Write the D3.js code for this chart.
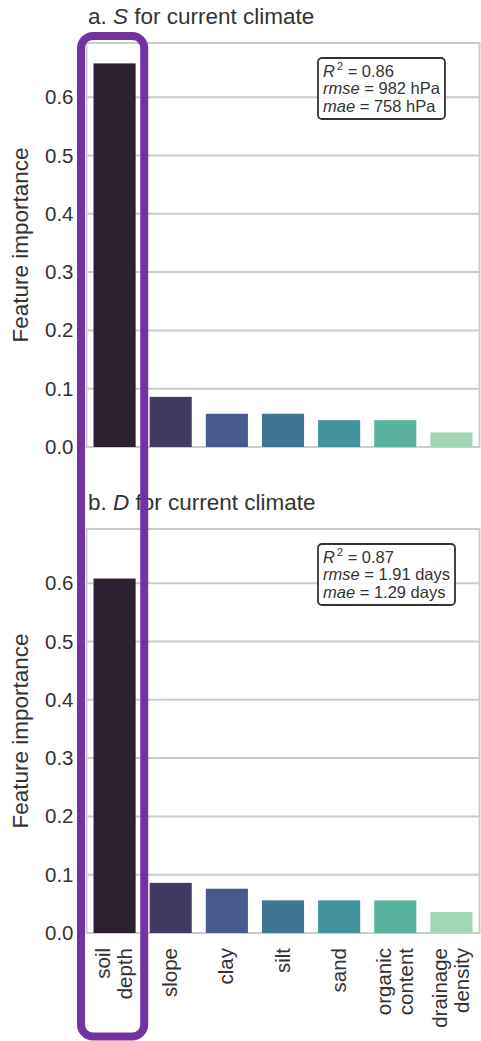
<!DOCTYPE html>
<html>
<head>
<meta charset="utf-8">
<script src="https://cdn.jsdelivr.net/npm/d3@7"></script>
<style>
  html, body { margin: 0; padding: 0; background: #ffffff; }
  svg { display: block; font-family: "Liberation Sans", Arial, sans-serif; }
</style>
</head>
<body>
<svg id="chart" width="481" height="1041"></svg>
<script>
// ---- data ----
const categories = ["soil depth", "slope", "clay", "silt", "sand", "organic content", "drainage density"];
const importanceS = [0.658, 0.086, 0.057, 0.057, 0.046, 0.046, 0.025];
const importanceD = [0.608, 0.086, 0.076, 0.056, 0.056, 0.056, 0.036];
const barColors = ["#2c1f30", "#433a63", "#475b8c", "#427591", "#44929b", "#59b39f", "#a2d5b5"];
const yTicks = [0, 0.1, 0.2, 0.3, 0.4, 0.5, 0.6];
const panelLetters = ["a.", "b."];
const panelVars = ["S", "D"];
const titleRest = " for current climate";
const statsR2 = ["0.86", "0.87"];
const statsRmse = ["982 hPa", "1.91 days"];
const statsMae = ["758 hPa", "1.29 days"];
const yLabel = "Feature importance";
const yMax = 0.693;

// ---- layout ----
const svg = d3.select("#chart");
const left = 86.5, right = 479.5;
const panels = [
  { top: 43, bottom: 447, values: importanceS },
  { top: 529, bottom: 933, values: importanceD }
];
const textColor = "#333333";
const gridColor = "#cccccc";

const x = d3.scaleBand().domain(categories).range([left, right])
  .paddingInner(0.25).paddingOuter(0.125);

panels.forEach((p, i) => {
  const y = d3.scaleLinear().domain([0, yMax]).range([p.bottom, p.top]);
  const g = svg.append("g");

  // gridlines
  g.selectAll("line.grid").data(yTicks).join("line")
    .attr("x1", left).attr("x2", right)
    .attr("y1", d => y(d)).attr("y2", d => y(d))
    .attr("stroke", gridColor).attr("stroke-width", 2);

  // frame
  g.append("rect")
    .attr("x", left).attr("y", p.top)
    .attr("width", right - left).attr("height", p.bottom - p.top)
    .attr("fill", "none").attr("stroke", gridColor).attr("stroke-width", 2);

  // y axis (labels only)
  const yAxis = d3.axisLeft(y).tickValues(yTicks).tickFormat(d3.format(".1f")).tickSize(0).tickPadding(13);
  const ax = g.append("g").attr("transform", `translate(${left},0)`).call(yAxis);
  ax.select(".domain").remove();
  ax.selectAll("text").attr("font-size", 20.5).attr("fill", textColor)
    .attr("font-family", "Liberation Sans, Arial, sans-serif");

  // bars
  g.selectAll("rect.bar").data(categories).join("rect")
    .attr("class", "bar")
    .attr("x", d => x(d))
    .attr("width", x.bandwidth())
    .attr("y", (d, j) => y(p.values[j]))
    .attr("height", (d, j) => y(0) - y(p.values[j]))
    .attr("fill", (d, j) => barColors[j]);

  // title
  const t = g.append("text")
    .attr("x", left + 1.5).attr("y", p.top - 19.5)
    .attr("font-size", 22.5).attr("fill", textColor);
  t.append("tspan").text(panelLetters[i] + " ");
  t.append("tspan").attr("font-style", "italic").text(panelVars[i]);
  t.append("tspan").text(titleRest);

  // y label
  g.append("text")
    .attr("transform", `translate(28,${(p.top + p.bottom) / 2}) rotate(-90)`)
    .attr("text-anchor", "middle")
    .attr("font-size", 22.5).attr("fill", textColor)
    .text(yLabel);

  // stats box
  const boxX = 318, boxY = p.top + 15;
  const tx = boxX + 5;
  const lh = 17.5;
  const sg = g.append("g");
  const l1 = sg.append("text").attr("x", tx).attr("y", boxY + 18.5)
    .attr("font-size", 16.5).attr("fill", textColor);
  l1.append("tspan").attr("font-style", "italic").text("R");
  l1.append("tspan").attr("dx", 2).attr("dy", -7).attr("font-size", 11).text("2");
  l1.append("tspan").attr("dy", 7).text(" = " + statsR2[i]);
  const l2 = sg.append("text").attr("x", tx).attr("y", boxY + 18.5 + lh)
    .attr("font-size", 16.5).attr("fill", textColor);
  l2.append("tspan").attr("font-style", "italic").text("rmse");
  l2.append("tspan").text(" = " + statsRmse[i]);
  const l3 = sg.append("text").attr("x", tx).attr("y", boxY + 18.5 + 2 * lh)
    .attr("font-size", 16.5).attr("fill", textColor);
  l3.append("tspan").attr("font-style", "italic").text("mae");
  l3.append("tspan").text(" = " + statsMae[i]);
  const maxW = Math.max(l1.node().getComputedTextLength(), l2.node().getComputedTextLength(), l3.node().getComputedTextLength());
  sg.insert("rect", ":first-child")
    .attr("x", boxX).attr("y", boxY)
    .attr("width", maxW + 10).attr("height", 61)
    .attr("rx", 4).attr("ry", 4)
    .attr("fill", "#ffffff").attr("fill-opacity", 0.85)
    .attr("stroke", "#333333").attr("stroke-width", 1.8);
});

// x tick labels (bottom panel only), rotated, multi-line
const xlab = svg.append("g");
const labelTop = panels[1].bottom + 15;
const lineGap = 22.5;
categories.forEach(c => {
  const words = c.split(" ");
  const cx = x(c) + x.bandwidth() / 2;
  const n = words.length;
  words.forEach((w, k) => {
    const base = cx + 6.5 + (k - (n - 1) / 2) * lineGap;
    xlab.append("text")
      .attr("transform", `translate(${base},${labelTop}) rotate(-90)`)
      .attr("text-anchor", "end")
      .attr("font-size", 20.5).attr("fill", textColor)
      .text(w);
  });
});

// highlight rectangle around the first category
const hx0 = x(categories[0]) - 12.5;
const hx1 = x(categories[0]) + x.bandwidth() + 8.6;
svg.append("rect")
  .attr("x", hx0).attr("y", 36)
  .attr("width", hx1 - hx0).attr("height", 1036.5 - 36)
  .attr("rx", 12).attr("ry", 12)
  .attr("fill", "none").attr("stroke", "#7232a0").attr("stroke-width", 8);
</script>
</body>
</html>
